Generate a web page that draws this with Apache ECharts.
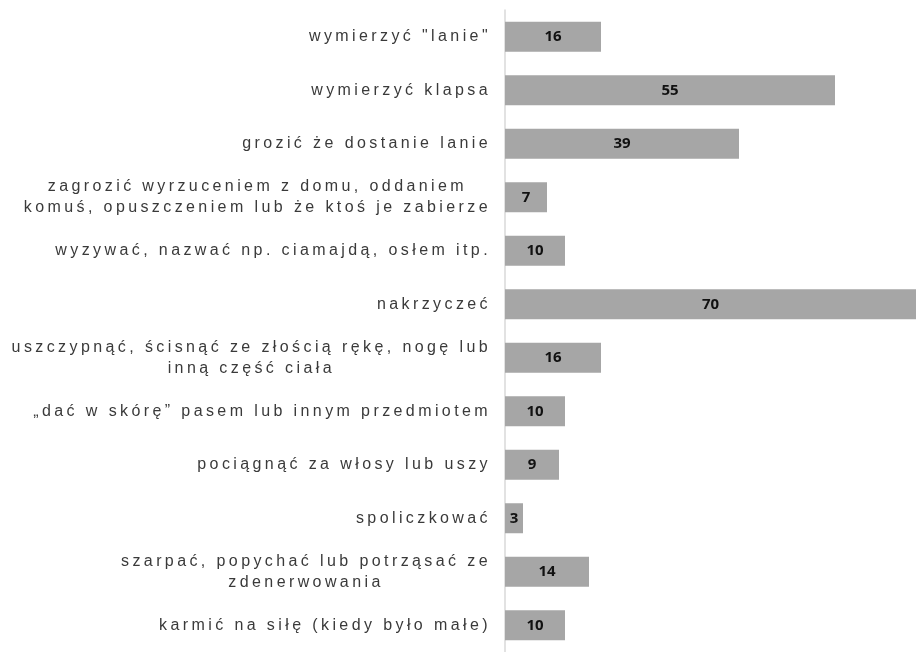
<!DOCTYPE html>
<html>
<head>
<meta charset="utf-8">
<script src="https://cdn.jsdelivr.net/npm/echarts@6/dist/echarts.min.js"></script>
<style>
  * { margin: 0; padding: 0; }
  body { background: #fff; }
</style>
</head>
<body>
<!--chart container-->
<div id="main" style="width: 916px; height: 652px"></div>
<script>
// categories, top to bottom
var categories = [
  'wymierzyć "lanie"',
  'wymierzyć klapsa',
  'grozić że dostanie lanie',
  'zagrozić wyrzuceniem z domu, oddaniem\nkomuś, opuszczeniem lub że ktoś je zabierze',
  'wyzywać, nazwać np. ciamajdą, osłem itp.',
  'nakrzyczeć',
  'uszczypnąć, ścisnąć ze złością rękę, nogę lub\ninną część ciała',
  '„dać w skórę” pasem lub innym przedmiotem',
  'pociągnąć za włosy lub uszy',
  'spoliczkować',
  'szarpać, popychać lub potrząsać ze\nzdenerwowania',
  'karmić na siłę (kiedy było małe)'
];
var values = [16, 55, 39, 7, 10, 70, 16, 10, 9, 3, 14, 10];

// the category labels are spread out wide, canvas text has letterSpacing
var fontDesc = Object.getOwnPropertyDescriptor(CanvasRenderingContext2D.prototype, 'font');
Object.defineProperty(CanvasRenderingContext2D.prototype, 'font', {
  get: function () { return fontDesc.get.call(this); },
  set: function (v) {
    fontDesc.set.call(this, v);
    if ('letterSpacing' in this) {
      this.letterSpacing = String(v).indexOf('Liberation Sans') > -1 ? '3.4px' : '0px';
    }
  }
});

var chart = echarts.init(document.getElementById('main'), null, { renderer: 'canvas' });
chart.setOption({
  animation: false,
  grid: { left: 505, top: 10, right: 0, bottom: -4 },
  xAxis: {
    type: 'value',
    min: 0,
    max: 68.5, // the 70 bar runs off the right edge
    show: false,
    splitLine: { show: false }
  },
  yAxis: {
    type: 'category',
    inverse: true,
    data: categories,
    axisLine: { lineStyle: { color: '#d9d9d9', width: 1.5 } },
    axisTick: { show: false },
    axisLabel: {
      margin: 14,
      formatter: function (v) {
        return v.split('\n').map(function (s) { return '{c|' + s + '}'; }).join('\n');
      },
      rich: {
        c: {
          fontFamily: 'Liberation Sans',
          fontSize: 16,
          color: '#3a3a3a',
          align: 'center',
          lineHeight: 21
        }
      }
    }
  },
  series: [
    {
      type: 'bar',
      data: values,
      barWidth: 30,
      itemStyle: { color: '#a6a6a6' },
      label: {
        show: true,
        position: 'inside',
        color: '#111',
        fontFamily: 'Open Sans',
        fontWeight: 'bold',
        fontSize: 15
      }
    }
  ]
});
</script>
</body>
</html>
